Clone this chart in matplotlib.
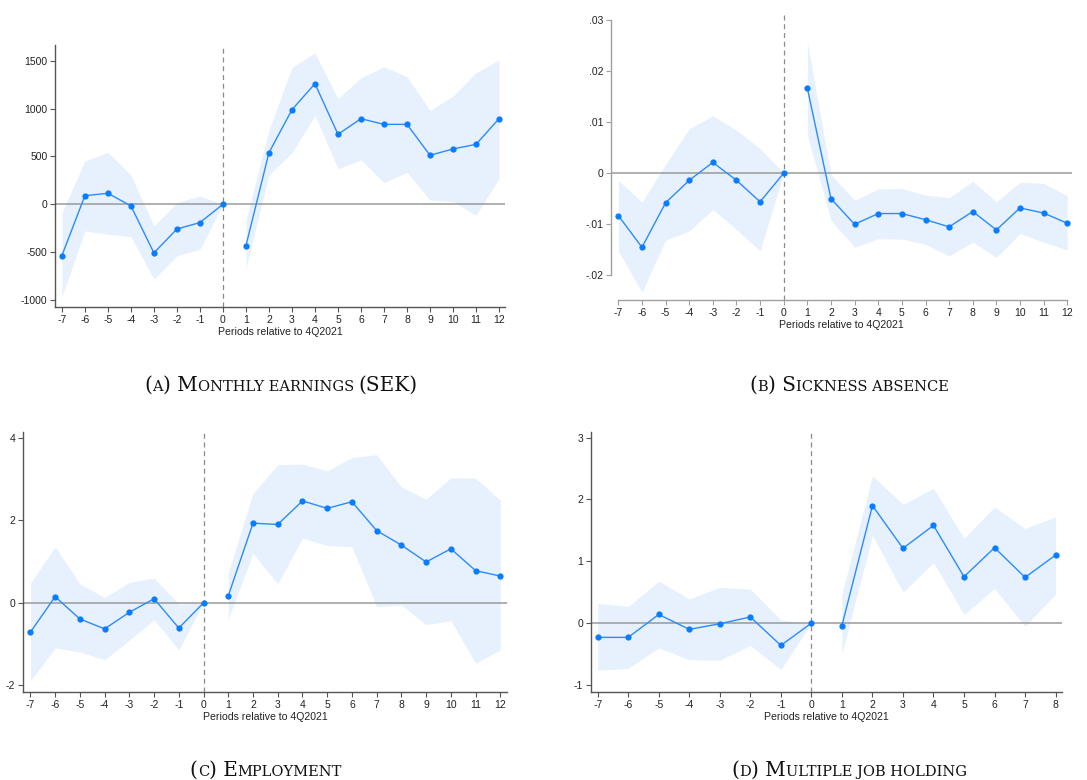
"""Event-study coefficients around 4Q2021 for four outcomes, in a 2x2 panel figure."""
import matplotlib
matplotlib.use("Agg")
import matplotlib.pyplot as plt
import numpy as np

plt.rcParams["font.family"] = ["Liberation Sans", "DejaVu Sans"]
plt.rcParams["axes.unicode_minus"] = False

periods_long = list(range(-7, 13))
periods_short = list(range(-7, 9))

earn_coef = [-536, 90, 115, -17, -508, -258, -191, 0, -432, 539, 988, 1260, 731, 894, 835, 835, 512, 578, 626, 894]
earn_lo = [-964, -278, -313, -338, -783, -539, -470, 0, -668, 306, 539, 929, 372, 463, 226, 334, 45, 28, -115, 271]
earn_hi = [-87, 452, 543, 303, -226, 17, 87, 0, -164, 776, 1430, 1583, 1103, 1322, 1437, 1333, 981, 1131, 1375, 1507]

sick_coef = [-0.0083, -0.0145, -0.0058, -0.0014, 0.0021, -0.0014, -0.0056, 0, 0.0166, -0.0050,
             -0.0100, -0.0079, -0.0079, -0.0091, -0.0105, -0.0075, -0.0111, -0.0068, -0.0078, -0.0098]
sick_lo = [-0.0152, -0.0233, -0.0131, -0.0113, -0.0071, -0.0110, -0.0152, 0, 0.0074, -0.0092,
           -0.0145, -0.0128, -0.0129, -0.0139, -0.0162, -0.0135, -0.0165, -0.0118, -0.0135, -0.0150]
sick_hi = [-0.0014, -0.0057, 0.0017, 0.0087, 0.0112, 0.0084, 0.0048, 0, 0.0256, -0.0003,
           -0.0053, -0.0031, -0.0030, -0.0043, -0.0048, -0.0016, -0.0056, -0.0018, -0.0020, -0.0044]

emp_coef = [-0.71, 0.15, -0.39, -0.63, -0.23, 0.10, -0.61, 0, 0.17, 1.93, 1.90, 2.47, 2.29, 2.45, 1.75, 1.40, 0.99, 1.31, 0.78, 0.65]
emp_lo = [-1.89, -1.09, -1.19, -1.38, -0.90, -0.41, -1.14, 0, -0.39, 1.20, 0.46, 1.57, 1.39, 1.36, -0.09, -0.05, -0.53, -0.43, -1.46, -1.14]
emp_hi = [0.48, 1.36, 0.46, 0.13, 0.50, 0.60, -0.03, 0, 0.74, 2.65, 3.35, 3.36, 3.20, 3.52, 3.59, 2.81, 2.51, 3.03, 3.02, 2.49]

multi_coef = [-0.23, -0.23, 0.14, -0.10, -0.01, 0.10, -0.36, 0, -0.04, 1.90, 1.21, 1.58, 0.75, 1.22, 0.74, 1.10]
multi_lo = [-0.76, -0.73, -0.40, -0.59, -0.60, -0.36, -0.75, 0, -0.50, 1.42, 0.50, 0.98, 0.14, 0.56, -0.05, 0.47]
multi_hi = [0.32, 0.27, 0.68, 0.39, 0.58, 0.55, 0.05, 0, 0.47, 2.38, 1.92, 2.18, 1.37, 1.88, 1.53, 1.72]

earn_yticks = [-1000, -500, 0, 500, 1000, 1500]
sick_yticks = [-0.02, -0.01, 0, 0.01, 0.02, 0.03]
sick_ylabels = ["-.02", "-.01", "0", ".01", ".02", ".03"]
emp_yticks = [-2, 0, 2, 4]
multi_yticks = [-1, 0, 1, 2, 3]

captions = ["(a) Monthly earnings (SEK)", "(b) Sickness absence", "(c) Employment", "(d) Multiple job holding"]

LINE = "#2a8bff"
DOT = "#0a7cff"
BAND = "#e7f1fd"
W, H = 1087, 780


def px_rect(left, right, top, bottom):
    return [left / W, 1 - bottom / H, (right - left) / W, (bottom - top) / H]


def event_panel(ax, x, coef, lo, hi, xlim, ylim, yticks, ylabels=None, spine="#555555", bounded=False):
    x = np.asarray(x)
    coef, lo, hi = map(np.asarray, (coef, lo, hi))
    ax.axhline(0, color="#9a9a9a", lw=1.1, zorder=1)
    ax.axvline(0, color="#8a8a8a", lw=0.9, dashes=(4, 3), zorder=1)
    for seg in (x <= 0, x >= 1):
        ax.fill_between(x[seg], lo[seg], hi[seg], color=BAND, lw=0, zorder=0)
        ax.plot(x[seg], coef[seg], color=LINE, lw=1.0, zorder=3)
        ax.plot(x[seg], coef[seg], "o", color=DOT, ms=4.5, mew=0, zorder=4)
    ax.set_xlim(*xlim)
    ax.set_ylim(*ylim)
    ax.set_xticks(x)
    ax.set_yticks(yticks)
    if ylabels is not None:
        ax.set_yticklabels(ylabels)
    for s in ("top", "right"):
        ax.spines[s].set_visible(False)
    for s in ("left", "bottom"):
        ax.spines[s].set_color(spine)
        ax.spines[s].set_linewidth(1.0)
    if bounded:
        ax.spines["left"].set_bounds(yticks[0], yticks[-1])
        ax.spines["bottom"].set_bounds(x[0], x[-1])
    ax.tick_params(direction="out", length=3.5, width=0.8, color=spine,
                   labelsize=7.5, pad=2, labelcolor="#222222")
    ax.set_xlabel("Periods relative to 4Q2021", fontsize=7.6, labelpad=1.5, color="#222222")
    ax.set_facecolor("none")


def small_caps(fig, text, cx, baseline, size=14.4, ratio=0.73):
    """Draw text in small caps, centred on cx (px) with its baseline at `baseline` (px from top)."""
    renderer = fig.canvas.get_renderer()
    kw = dict(family=["DejaVu Serif"], color="#111111", va="baseline", ha="left")

    def width(s, fs):
        t = fig.text(0, 0, s, fontsize=fs, **kw)
        w = t.get_window_extent(renderer).width
        t.remove()
        return w

    def advance(s, fs):
        # bracket the run so side bearings and spaces count as in running text
        return width("|" + s + "|", fs) - width("||", fs)

    runs = []
    for ch in text:
        fs = size * ratio if ch.islower() else size
        if ch == " " and runs:
            fs = runs[-1][1]
        if runs and runs[-1][1] == fs:
            runs[-1][0] += ch.upper()
        else:
            runs.append([ch.upper(), fs])

    widths = [advance(s, fs) for s, fs in runs]
    xpos = cx - sum(widths) / 2
    y = 1 - baseline / H
    for (s, fs), w in zip(runs, widths):
        fig.text(xpos / W, y, s, fontsize=fs, **kw)
        xpos += w


fig = plt.figure(figsize=(W / 100, H / 100), dpi=100)

ax_a = fig.add_axes(px_rect(55, 505, 45, 307))
event_panel(ax_a, periods_long, earn_coef, earn_lo, earn_hi,
            (-7.3, 12.26), (-1073, 1664), earn_yticks)

ax_b = fig.add_axes(px_rect(611, 1072, 12, 300))
event_panel(ax_b, periods_long, sick_coef, sick_lo, sick_hi,
            (-7.31, 12.2), (-0.0248, 0.0315), sick_yticks, sick_ylabels,
            spine="#a0a0a0", bounded=True)

ax_c = fig.add_axes(px_rect(23, 507, 432, 692))
event_panel(ax_c, periods_long, emp_coef, emp_lo, emp_hi,
            (-7.3, 12.27), (-2.16, 4.14), emp_yticks)

ax_d = fig.add_axes(px_rect(591, 1062, 432, 692))
event_panel(ax_d, periods_short, multi_coef, multi_lo, multi_hi,
            (-7.22, 8.21), (-1.113, 3.09), multi_yticks)

small_caps(fig, captions[0], 281, 391)
small_caps(fig, captions[1], 849, 391)
small_caps(fig, captions[2], 266, 776)
small_caps(fig, captions[3], 849, 776)

fig.savefig("out.png", dpi=100)
